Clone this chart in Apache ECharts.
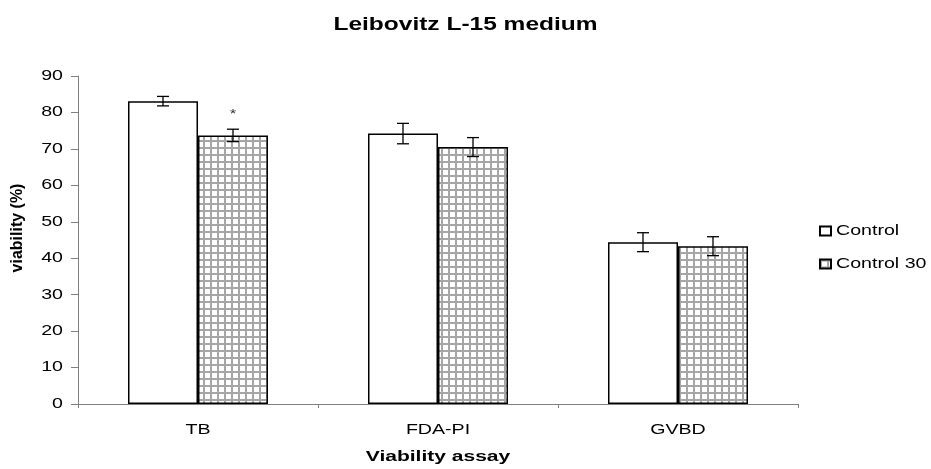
<!DOCTYPE html>
<html>
<head>
<meta charset="utf-8">
<script src="https://cdn.jsdelivr.net/npm/echarts@6/dist/echarts.min.js"></script>
<style>
  html, body { margin: 0; padding: 0; background: #fff; }
  #chart { width: 931px; height: 469px; }
</style>
</head>
<body>
<div id="chart"></div>
<script>
// Viability by assay, Leibovitz L-15 medium
const categories = ['TB', 'FDA-PI', 'GVBD'];
const controlValues = [83.1, 74.2, 44.4];
const control30Values = [73.7, 70.5, 43.3];
const controlErrors = [1.3, 2.8, 2.6];
const control30Errors = [1.7, 2.6, 2.6];
const control30Marks = ['*', '', ''];
const yTicks = [0, 10, 20, 30, 40, 50, 60, 70, 80, 90];

const FONT = '"Liberation Sans", Arial, sans-serif';

// Horizontally widened lettering for all upright text on the canvas
// (rotated text is drawn unchanged).
const TEXT_STRETCH = 1.4;
(function () {
  const proto = CanvasRenderingContext2D.prototype;
  ['fillText', 'strokeText'].forEach(function (fn) {
    const orig = proto[fn];
    proto[fn] = function (text, x, y, maxWidth) {
      const t = this.getTransform();
      if (Math.abs(t.b) > 1e-6 || Math.abs(t.c) > 1e-6) {
        return maxWidth === undefined ? orig.call(this, text, x, y) : orig.call(this, text, x, y, maxWidth);
      }
      this.save();
      this.translate(x, y);
      this.scale(TEXT_STRETCH, 1);
      if (maxWidth === undefined) orig.call(this, text, 0, 0);
      else orig.call(this, text, 0, 0, maxWidth);
      this.restore();
    };
  });
})();

// Grey check fill for the second series
function makeCheckPattern() {
  const size = 7;
  const c = document.createElement('canvas');
  c.width = size; c.height = size;
  const ctx = c.getContext('2d');
  ctx.fillStyle = '#ffffff';
  ctx.fillRect(0, 0, size, size);
  ctx.fillStyle = '#a6a6a6';
  ctx.fillRect(0, 0, size, 2);
  ctx.fillRect(0, 0, 2, size);
  return c;
}
const checkFill = { image: makeCheckPattern(), repeat: 'repeat' };

const BAR_W = 70;

function errorBarSeries(values, errors, side, marks) {
  return {
    type: 'custom',
    z: 10,
    silent: true,
    data: values.map((v, i) => [i, v, errors[i]]),
    renderItem: function (params, api) {
      const i = api.value(0);
      const v = api.value(1);
      const e = api.value(2);
      const top = api.coord([i, v + e]);
      const bot = api.coord([i, v - e]);
      const x = top[0] + side * BAR_W / 2;
      const cap = 6;
      const st = { stroke: '#000', lineWidth: 1.3 };
      const children = [
        { type: 'line', shape: { x1: x, y1: top[1], x2: x, y2: bot[1] }, style: st },
        { type: 'line', shape: { x1: x - cap, y1: top[1], x2: x + cap, y2: top[1] }, style: st },
        { type: 'line', shape: { x1: x - cap, y1: bot[1], x2: x + cap, y2: bot[1] }, style: st }
      ];
      const mark = marks ? marks[params.dataIndex] : '';
      if (mark) {
        children.push({
          type: 'text',
          style: {
            text: mark, x: x, y: top[1] - 15,
            align: 'center', verticalAlign: 'middle',
            font: '12px ' + FONT, fill: '#333'
          }
        });
      }
      return { type: 'group', children: children };
    }
  };
}

const chart = echarts.init(document.getElementById('chart'), null, { renderer: 'canvas' });

chart.setOption({
  animation: false,
  backgroundColor: '#ffffff',
  title: {
    text: 'Leibovitz L-15 medium',
    left: 'center',
    top: 11,
    textStyle: { fontFamily: FONT, fontSize: 17.5, fontWeight: 'bold', color: '#000' }
  },
  legend: {
    orient: 'vertical',
    left: 814,
    top: 218,
    itemWidth: 11,
    itemHeight: 9,
    itemGap: 17,
    icon: 'rect',
    textStyle: { fontFamily: FONT, fontSize: 14, lineHeight: 16, color: '#000' },
    data: ['Control', 'Control 30']
  },
  grid: { left: 78, right: 133, top: 76, bottom: 63 },
  xAxis: {
    type: 'category',
    data: categories,
    name: 'Viability assay',
    nameLocation: 'middle',
    nameGap: 45,
    nameTextStyle: { fontFamily: FONT, fontSize: 15, fontWeight: 'bold', color: '#000' },
    axisLine: { lineStyle: { color: '#808080', width: 1 } },
    axisTick: { show: true, length: 4, lineStyle: { color: '#808080' } },
    axisLabel: { fontFamily: FONT, fontSize: 14, color: '#000', margin: 19 }
  },
  yAxis: {
    type: 'value',
    min: yTicks[0],
    max: yTicks[yTicks.length - 1],
    interval: 10,
    axisLine: { show: true, lineStyle: { color: '#808080', width: 1 } },
    axisTick: { show: true, length: 7, lineStyle: { color: '#808080' } },
    axisLabel: { fontFamily: FONT, fontSize: 14, color: '#000', margin: 15 },
    splitLine: { show: false }
  },
  graphic: [{
    type: 'text',
    x: 18,
    y: 228,
    rotation: Math.PI / 2,
    style: {
      text: 'viability (%)',
      font: 'bold 16px ' + FONT,
      fill: '#000',
      align: 'center',
      verticalAlign: 'middle'
    }
  }],
  series: [
    {
      name: 'Control',
      type: 'bar',
      barWidth: BAR_W,
      barGap: '0%',
      data: controlValues,
      itemStyle: { color: '#ffffff', borderColor: '#000', borderWidth: 1.5 }
    },
    {
      name: 'Control 30',
      type: 'bar',
      barWidth: BAR_W,
      barGap: '0%',
      data: control30Values,
      itemStyle: { color: checkFill, borderColor: '#000', borderWidth: 1.5 }
    },
    errorBarSeries(controlValues, controlErrors, -1, null),
    errorBarSeries(control30Values, control30Errors, 1, control30Marks)
  ]
});
</script>
</body>
</html>
